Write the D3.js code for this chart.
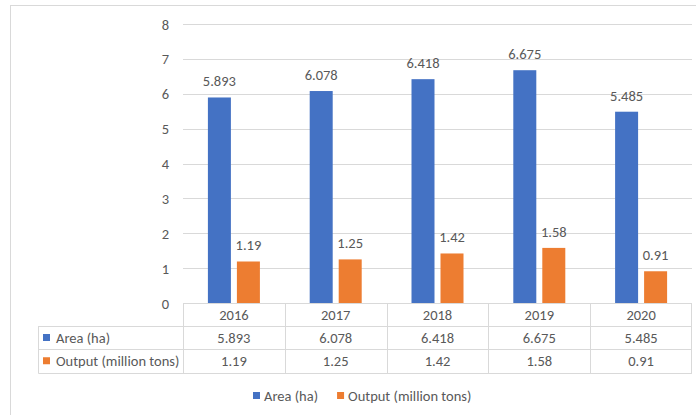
<!DOCTYPE html>
<html>
<head>
<meta charset="utf-8">
<script src="https://cdn.jsdelivr.net/npm/d3@7"></script>
<style>
  html, body { margin: 0; padding: 0; background: #fff; }
  svg { display: block; }
  text { font-family: Carlito, Lato, sans-serif; fill: #595959; }
</style>
</head>
<body>
<svg id="chart" width="696" height="415"></svg>
<script>
// Planted area and output by year
const years = ["2016", "2017", "2018", "2019", "2020"];
const areaHa = [5.893, 6.078, 6.418, 6.675, 5.485];
const outputMt = [1.19, 1.25, 1.42, 1.58, 0.91];
const yTicks = [0, 1, 2, 3, 4, 5, 6, 7, 8];
const seriesNames = ["Area (ha)", "Output (million tons)"];
const seriesColors = ["#4472C4", "#ED7D31"];

const seriesValues = [areaHa, outputMt];
const fmt = [d => d3.format(".3f")(d), d => d3.format(".2f")(d)];

const svg = d3.select("#chart");
const plot = { left: 183, right: 692, top: 24, bottom: 303 };
const fontSize = 14.5;
const lineColor = "#D9D9D9";

// outer chart frame
svg.append("rect")
  .attr("x", 10.5).attr("y", 5.5)
  .attr("width", 720).attr("height", 440)
  .attr("fill", "none").attr("stroke", lineColor);

const x = d3.scaleBand().domain(years).range([plot.left, plot.right]);
const y = d3.scaleLinear().domain([0, 8]).range([plot.bottom, plot.top]);

// gridlines
svg.append("g").selectAll("line").data(yTicks.filter(t => t > 0)).join("line")
  .attr("x1", plot.left).attr("x2", plot.right)
  .attr("y1", d => Math.round(y(d)) + 0.5).attr("y2", d => Math.round(y(d)) + 0.5)
  .attr("stroke", lineColor).attr("stroke-width", 1);

// y axis labels
const yAxis = d3.axisLeft(y).tickValues(yTicks).tickSize(0).tickPadding(0);
const yg = svg.append("g").attr("transform", `translate(${plot.left - 14},0)`).call(yAxis);
yg.select(".domain").remove();
yg.selectAll("text")
  .attr("font-size", fontSize)
  .attr("font-family", "Carlito, Lato, sans-serif")
  .attr("fill", "#595959")
  .attr("dy", "0.35em");

// clustered bars with value labels
const barW = 23, barGap = 6;
const offset = s => (s === 0 ? -(barW + barGap / 2) : barGap / 2);

seriesValues.forEach((vals, s) => {
  const g = svg.append("g");
  g.selectAll("rect").data(vals).join("rect")
    .attr("x", (d, i) => x(years[i]) + x.bandwidth() / 2 + offset(s))
    .attr("width", barW)
    .attr("y", d => y(d))
    .attr("height", d => y(0) - y(d))
    .attr("fill", seriesColors[s]);
  g.selectAll("text").data(vals).join("text")
    .attr("x", (d, i) => x(years[i]) + x.bandwidth() / 2 + offset(s) + barW / 2)
    .attr("y", d => y(d) - 11)
    .attr("text-anchor", "middle")
    .attr("font-size", fontSize)
    .text(fmt[s]);
});

// data table beneath the plot
const rowY = [plot.bottom, 326, 349, 372.5];
const tableLeft = 38.5;
const tg = svg.append("g");
tg.append("line").attr("x1", plot.left).attr("x2", plot.right)
  .attr("y1", rowY[0] + 0.5).attr("y2", rowY[0] + 0.5).attr("stroke", lineColor);
[1, 2, 3].forEach(r => {
  tg.append("line").attr("x1", tableLeft).attr("x2", plot.right)
    .attr("y1", Math.round(rowY[r]) + 0.5).attr("y2", Math.round(rowY[r]) + 0.5).attr("stroke", lineColor);
});
tg.append("line").attr("x1", tableLeft).attr("x2", tableLeft)
  .attr("y1", rowY[1]).attr("y2", Math.round(rowY[3]) + 0.5).attr("stroke", lineColor);
years.forEach(yr => {
  const xv = Math.round(x(yr)) + 0.5;
  tg.append("line").attr("x1", xv).attr("x2", xv)
    .attr("y1", rowY[0]).attr("y2", Math.round(rowY[3]) + 0.5).attr("stroke", lineColor);
});
tg.append("line").attr("x1", plot.right - 0.5).attr("x2", plot.right - 0.5)
  .attr("y1", rowY[0]).attr("y2", Math.round(rowY[3]) + 0.5).attr("stroke", lineColor);

// header row: years
tg.selectAll("text.year").data(years).join("text").attr("class", "year")
  .attr("x", d => x(d) + x.bandwidth() / 2)
  .attr("y", (rowY[0] + rowY[1]) / 2)
  .attr("dy", "0.35em")
  .attr("text-anchor", "middle")
  .attr("font-size", fontSize)
  .text(d => d);

// series rows with legend keys
seriesValues.forEach((vals, s) => {
  const cy = (rowY[s + 1] + rowY[s + 2]) / 2;
  tg.append("rect").attr("x", 43).attr("y", cy - 3.5).attr("width", 7).attr("height", 7)
    .attr("fill", seriesColors[s]);
  tg.append("text").attr("x", 56).attr("y", cy).attr("dy", "0.35em")
    .attr("font-size", fontSize).text(seriesNames[s]);
  tg.selectAll(`text.v${s}`).data(vals).join("text").attr("class", `v${s}`)
    .attr("x", (d, i) => x(years[i]) + x.bandwidth() / 2)
    .attr("y", cy).attr("dy", "0.35em")
    .attr("text-anchor", "middle")
    .attr("font-size", fontSize)
    .text(fmt[s]);
});

// legend
const lg = svg.append("g");
let lx = 253;
seriesNames.forEach((name, s) => {
  lg.append("rect").attr("x", lx).attr("y", 392).attr("width", 7).attr("height", 7)
    .attr("fill", seriesColors[s]);
  const t = lg.append("text").attr("x", lx + 11).attr("y", 396).attr("dy", "0.35em")
    .attr("font-size", fontSize).text(name);
  lx += 11 + t.node().getComputedTextLength() + 19;
});
</script>
</body>
</html>
